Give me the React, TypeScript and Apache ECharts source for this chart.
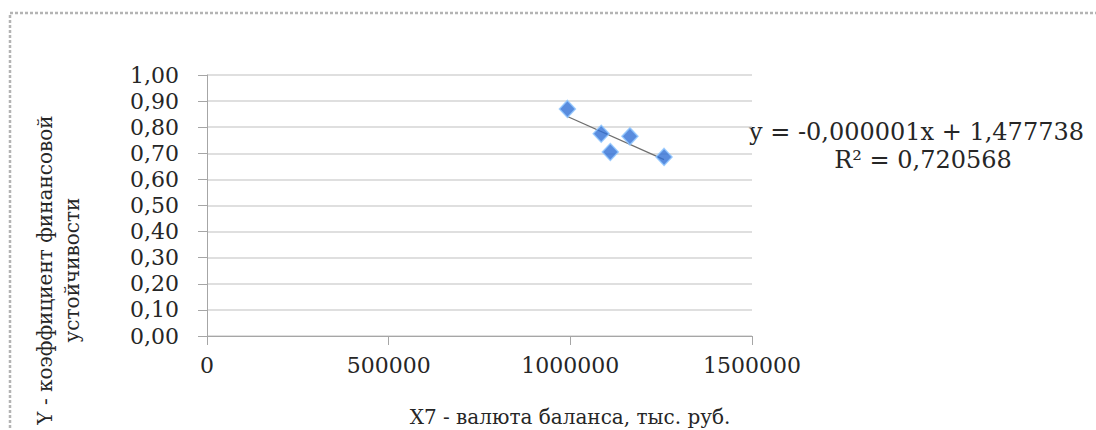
import React, { useEffect, useRef } from "react";
import * as echarts from "echarts";

const xValues = [992000, 1085000, 1110000, 1164000, 1258000];
const yValues = [0.87, 0.775, 0.705, 0.765, 0.686];
const yTicks = { min: 0, max: 1, interval: 0.1 };
const xTicks = { min: 0, max: 1500000, interval: 500000 };
const xTitle = "X7 - валюта баланса, тыс. руб.";
const yTitleLine1 = "Y - коэффициент финансовой";
const yTitleLine2 = "устойчивости";
const equationText = "y = -0,000001x + 1,477738";
const r2Text = "R² = 0,720568";

const FONT = "DejaVu Serif";

function regression(xs: number[], ys: number[]) {
  const n = xs.length;
  const mx = xs.reduce((a, b) => a + b, 0) / n;
  const my = ys.reduce((a, b) => a + b, 0) / n;
  let sxy = 0;
  let sxx = 0;
  for (let i = 0; i < n; i++) {
    sxy += (xs[i] - mx) * (ys[i] - my);
    sxx += (xs[i] - mx) * (xs[i] - mx);
  }
  const slope = sxy / sxx;
  return { slope, intercept: my - slope * mx };
}

export default function App() {
  const ref = useRef<HTMLDivElement>(null);
  useEffect(() => {
    if (!ref.current) return;
    const chart = echarts.init(ref.current, undefined, { renderer: "svg" });
    const { slope, intercept } = regression(xValues, yValues);
    const xMin = Math.min(...xValues);
    const xMax = Math.max(...xValues);
    const trend = [
      [xMin, intercept + slope * xMin],
      [xMax, intercept + slope * xMax],
    ];
    const points = xValues.map((x, i) => [x, yValues[i]]);
    chart.setOption({
      animation: false,
      backgroundColor: "#ffffff",
      grid: { left: 207, right: 344, top: 75, bottom: 94 },
      xAxis: {
        type: "value",
        min: xTicks.min,
        max: xTicks.max,
        interval: xTicks.interval,
        axisLine: { show: true, lineStyle: { color: "#a6a6a6", width: 1 } },
        axisTick: { show: true, length: 9, lineStyle: { color: "#a6a6a6" } },
        splitLine: { show: false },
        axisLabel: {
          margin: 18,
          color: "#262626",
          fontFamily: FONT,
          fontSize: 22,
          formatter: (v: number) => String(v),
        },
      },
      yAxis: {
        type: "value",
        min: yTicks.min,
        max: yTicks.max,
        interval: yTicks.interval,
        axisLine: { show: true, lineStyle: { color: "#a6a6a6", width: 1 } },
        axisTick: { show: true, length: 9, lineStyle: { color: "#a6a6a6" } },
        splitLine: { show: true, lineStyle: { color: "#d4d4d4", width: 1.5 } },
        axisLabel: {
          margin: 28,
          color: "#262626",
          fontFamily: FONT,
          fontSize: 22,
          formatter: (v: number) => v.toFixed(2).replace(".", ","),
        },
      },
      series: [
        {
          type: "line",
          data: trend,
          symbol: "none",
          lineStyle: { color: "#6e6e6e", width: 1.3 },
          z: 2,
        },
        {
          type: "scatter",
          data: points,
          symbol: "diamond",
          symbolSize: [16, 17],
          itemStyle: { color: "#2f6fd6", borderColor: "#8fc6ff", borderWidth: 1.5 },
          z: 3,
        },
      ],
      graphic: [
        {
          type: "rect",
          shape: { x: 10, y: 13, width: 1200, height: 500 },
          style: { fill: "none", stroke: "#b4b4b4", lineWidth: 2.5, lineDash: [3, 2] },
          silent: true,
        },
        {
          type: "text",
          x: 45,
          y: 270,
          rotation: Math.PI / 2,
          style: {
            text: yTitleLine1,
            fontFamily: FONT,
            fontSize: 20,
            fill: "#262626",
            textAlign: "center",
            textVerticalAlign: "middle",
          },
        },
        {
          type: "text",
          x: 72,
          y: 270,
          rotation: Math.PI / 2,
          style: {
            text: yTitleLine2,
            fontFamily: FONT,
            fontSize: 20,
            fill: "#262626",
            textAlign: "center",
            textVerticalAlign: "middle",
          },
        },
        {
          type: "text",
          x: 570,
          y: 417,
          style: {
            text: xTitle,
            fontFamily: FONT,
            fontSize: 20,
            fill: "#262626",
            textAlign: "center",
            textVerticalAlign: "middle",
          },
        },
        {
          type: "text",
          x: 749,
          y: 132,
          style: {
            text: equationText,
            fontFamily: FONT,
            fontSize: 24,
            fill: "#262626",
            textAlign: "left",
            textVerticalAlign: "middle",
          },
        },
        {
          type: "text",
          x: 923,
          y: 160,
          style: {
            text: r2Text,
            fontFamily: FONT,
            fontSize: 24,
            fill: "#262626",
            textAlign: "center",
            textVerticalAlign: "middle",
          },
        },
      ],
    });
    return () => chart.dispose();
  }, []);
  return (
    <div
      ref={ref}
      style={{ position: "absolute", left: 0, top: 0, width: 1096, height: 430 }}
    />
  );
}
